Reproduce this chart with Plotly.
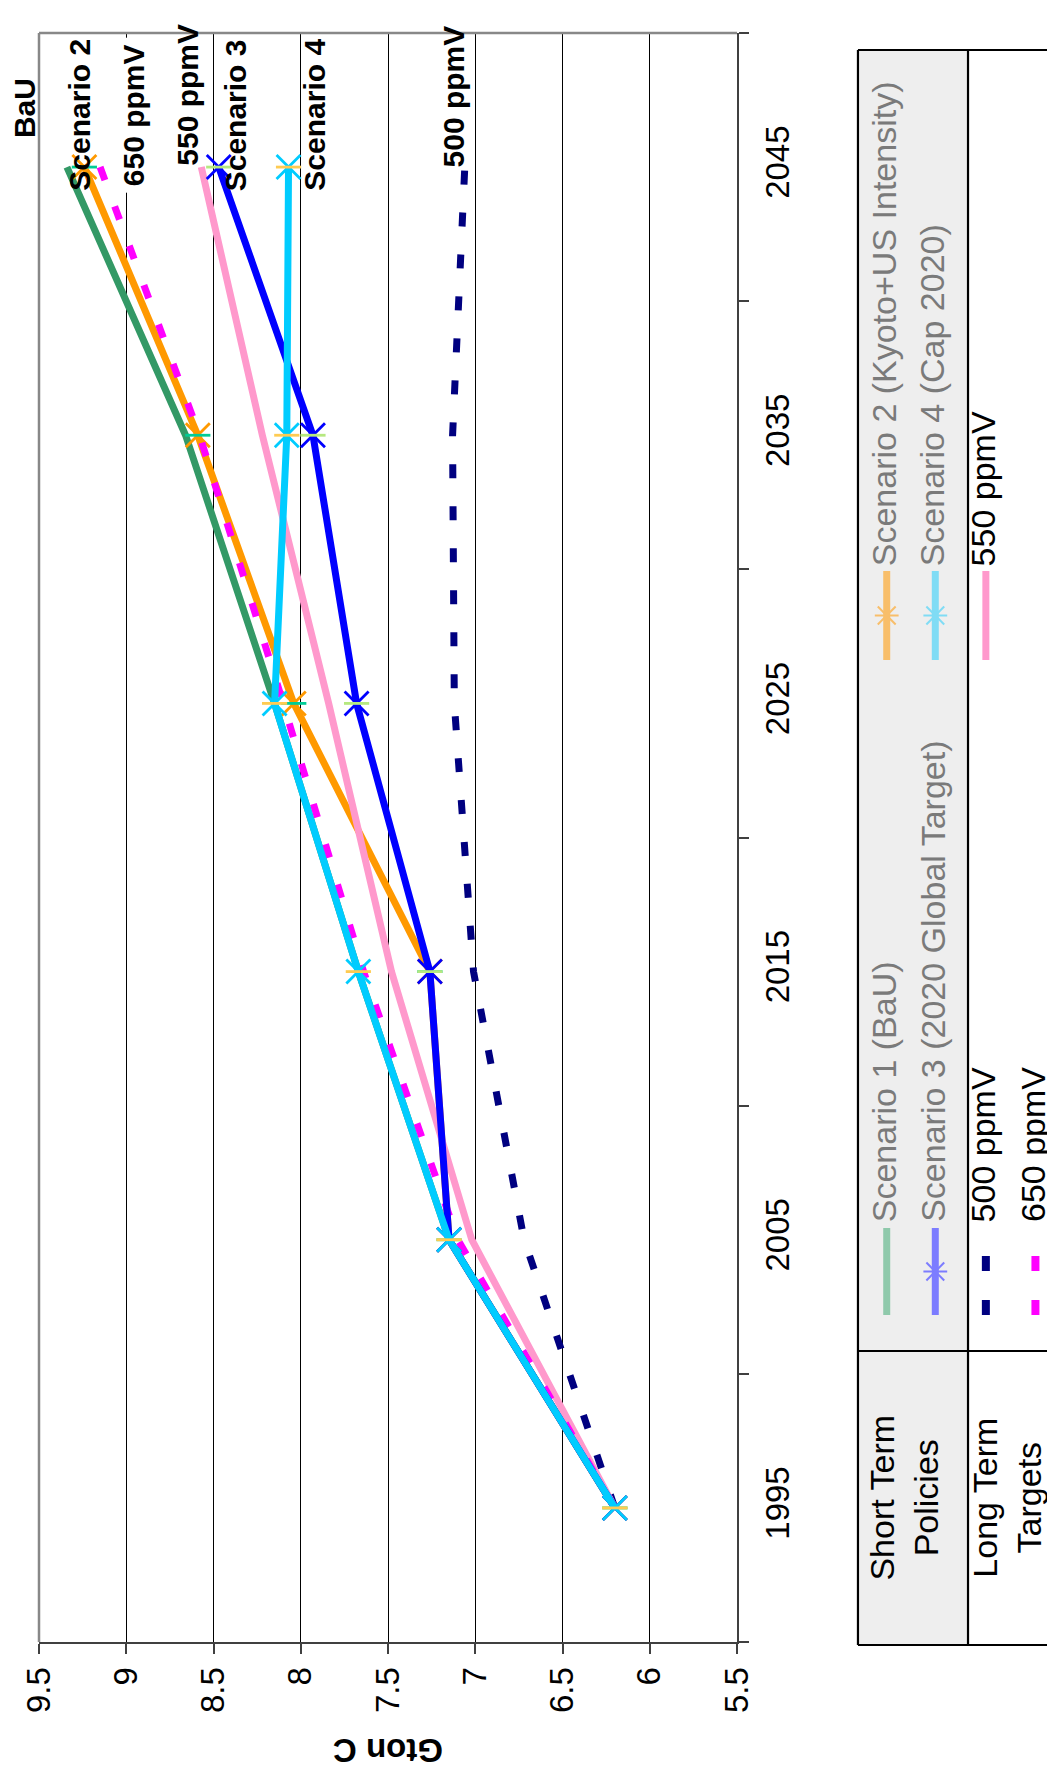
import plotly.graph_objects as go

# ---------------- data ----------------
years = [1995, 2005, 2015, 2025, 2035, 2045]
scenario1_bau = [6.20, 7.15, 7.67, 8.15, 8.66, 9.34]
scenario2_kyoto = [6.20, 7.15, 7.26, 8.04, 8.59, 9.24]
scenario3_global = [6.20, 7.15, 7.26, 7.68, 7.93, 8.47]
scenario4_cap = [6.20, 7.15, 7.67, 8.15, 8.08, 8.07]
target_500 = [6.20, 6.72, 7.01, 7.12, 7.13, 7.06]
target_550 = [6.20, 7.02, 7.48, 7.84, 8.22, 8.57]
target_650 = [6.20, 7.10, 7.64, 8.10, 8.58, 9.15]

series_names = ["Scenario 1 (BaU)", "Scenario 2 (Kyoto+US Intensity)",
                "Scenario 3 (2020 Global Target)", "Scenario 4 (Cap 2020)",
                "500 ppmV", "550 ppmV", "650 ppmV"]
end_labels = ["BaU", "Scenario 2", "650 ppmV", "550 ppmV", "Scenario 3", "Scenario 4", "500 ppmV"]
value_ticks = [9.5, 9, 8.5, 8, 7.5, 7, 6.5, 6, 5.5]
axis_title = "Gton C"
legend_headers = ["Short Term<br>Policies", "Long Term<br>Targets"]

# ---------------- geometry helpers (pixels -> paper) ----------------
W, H = 1055, 1769
L, R, T, B = 25, 729, 25, 1634


def PX(x):
    return (x - L) / (R - L)


def PY(y):
    return (B - y) / (B - T)


FONT = "Liberation Sans, Arial, sans-serif"
C_GREEN, C_ORANGE, C_BLUE, C_CYAN = "#339966", "#FF9900", "#0000FF", "#00CCFF"
C_NAVY, C_PINK, C_MAGENTA = "#000080", "#FF99CC", "#FF00FF"
DOT = "14px,28px"

fig = go.Figure()


def add_line(vals, name, color, dash="solid", width=7, marker=False):
    fig.add_trace(go.Scatter(
        x=vals, y=years, name=name, mode="lines+markers" if marker else "lines",
        line=dict(color=color, width=width, dash=dash),
        marker=dict(symbol="x-thin-open", size=24, line=dict(color=color, width=2.8)) if marker else None,
        showlegend=False, hoverinfo="skip"))
    if marker:
        fig.add_trace(go.Scatter(
            x=vals, y=years, mode="markers", showlegend=False, hoverinfo="skip",
            marker=dict(symbol="line-ew-open", size=18, line=dict(color=color, width=2.8))))


add_line(scenario1_bau, series_names[0], C_GREEN)
add_line(scenario2_kyoto, series_names[1], C_ORANGE, marker=True)
add_line(target_500, series_names[4], C_NAVY, dash=DOT, width=7)
add_line(target_550, series_names[5], C_PINK)
add_line(target_650, series_names[6], C_MAGENTA, dash=DOT, width=7)
add_line(scenario3_global, series_names[2], C_BLUE, marker=True)
add_line(scenario4_cap, series_names[3], C_CYAN, marker=True)

shapes = []
annotations = []

# plot-area border (top, left) in gray
shapes.append(dict(type="line", xref="paper", yref="paper", x0=0, x1=1, y0=1, y1=1,
                   line=dict(color="#888888", width=2.5), layer="above"))
shapes.append(dict(type="line", xref="paper", yref="paper", x0=0, x1=0, y0=0, y1=1,
                   line=dict(color="#888888", width=2.5), layer="above"))

# labels at line ends (bold, rotated)
label_pos = [(11, 100), (65, 107), (120, 107), (175, 87), (223, 107), (302, 107), (443, 88)]
for txt, (lx, ly) in zip(end_labels, label_pos):
    ann = dict(text=txt, xref="paper", yref="paper", x=PX(lx), y=PY(ly), xanchor="center",
               yanchor="middle", textangle=-90, showarrow=False,
               font=dict(family=FONT, size=30, color="black", weight="bold"))
    if txt == "650 ppmV":
        ann.update(bgcolor="white", borderpad=6)
    annotations.append(ann)

# axis title
annotations.append(dict(text=axis_title, xref="paper", yref="paper", x=PX(377), y=PY(1743),
                        xanchor="center", yanchor="middle", textangle=180, showarrow=False,
                        font=dict(family=FONT, size=33, color="black", weight="bold")))

# ---------------- legend table ----------------
LX0, LX1, LXM = 851, 1062, 962
LY0, LY1, LYM = 42, 1637, 1343
shapes.append(dict(type="rect", xref="paper", yref="paper", x0=PX(LX0), x1=PX(LXM), y0=PY(LY1), y1=PY(LY0),
                   fillcolor="#EEEEEE", line=dict(width=0), layer="above"))
for (x0, y0, x1, y1) in [(LX0, LY0, LX1, LY0), (LX0, LY1, LX1, LY1), (LX0, LY0, LX0, LY1),
                         (LXM, LY0, LXM, LY1), (LX0, LYM, LX1, LYM)]:
    shapes.append(dict(type="line", xref="paper", yref="paper", x0=PX(x0), x1=PX(x1), y0=PY(y0), y1=PY(y1),
                       line=dict(color="black", width=2.2), layer="above"))

for hdr, hx in zip(legend_headers, [897, 1001]):
    annotations.append(dict(text=hdr, xref="paper", yref="paper", x=PX(hx), y=PY(1490),
                            xanchor="center", yanchor="middle", textangle=-90, showarrow=False,
                            align="center", font=dict(family=FONT, size=34, color="black")))

# legend entries: (column x, symbol y range, text start y, text colour, symbol colour, kind)
entries = [
    (880, (1220, 1307), 1215, "#7a7a7a", "#8FC9AB", "line"),
    (880, (563, 652), 559, "#7a7a7a", "#F8BE6A", "star"),
    (929, (1220, 1307), 1215, "#7a7a7a", "#7C7CFF", "star"),
    (929, (563, 652), 559, "#7a7a7a", "#80DCF5", "star"),
    (980, (1220, 1307), 1215, "black", C_NAVY, "dot"),
    (980, (563, 652), 559, "black", C_PINK, "line"),
    (1030, (1220, 1307), 1215, "black", C_MAGENTA, "dot"),
]
for name, (ex, (sy0, sy1), ty, tcol, scol, kind) in zip(series_names, entries):
    if kind == "dot":
        for (d0, d1) in [(sy1 - 15, sy1), (sy1 - 59, sy1 - 44)]:
            shapes.append(dict(type="line", xref="paper", yref="paper", x0=PX(ex), x1=PX(ex),
                               y0=PY(d0), y1=PY(d1), line=dict(color=scol, width=8), layer="above"))
    else:
        shapes.append(dict(type="line", xref="paper", yref="paper", x0=PX(ex), x1=PX(ex),
                           y0=PY(sy0), y1=PY(sy1), line=dict(color=scol, width=7), layer="above"))
    if kind == "star":
        cy = (sy0 + sy1) / 2
        for (dx, dy) in [(12, 0), (9, 9), (9, -9)]:
            shapes.append(dict(type="line", xref="paper", yref="paper", x0=PX(ex - dx), x1=PX(ex + dx),
                               y0=PY(cy - dy), y1=PY(cy + dy), line=dict(color=scol, width=2), layer="above"))
    annotations.append(dict(text=name, xref="paper", yref="paper", x=PX(ex - 3), y=PY(ty),
                            xanchor="center", yanchor="bottom", textangle=-90, showarrow=False,
                            borderpad=0, font=dict(family=FONT, size=34, color=tcol)))

year_bounds = [years[0] - 5] + [y + 5 for y in years]

fig.update_layout(
    width=W, height=H,
    margin=dict(l=L, r=W - R, t=T, b=H - B, pad=0),
    paper_bgcolor="white", plot_bgcolor="white",
    font=dict(family=FONT, size=33, color="black"),
    xaxis=dict(range=[9.5, 5.5], tickvals=value_ticks, ticktext=[f"{v:g}" for v in value_ticks],
               tickangle=-90, showgrid=True, gridcolor="black", gridwidth=1, zeroline=False,
               showline=True, linecolor="#404040", linewidth=2, ticks="outside", ticklen=10,
               tickcolor="#404040", tickwidth=1.5, tickfont=dict(size=33, family=FONT)),
    yaxis=dict(range=[year_bounds[0], year_bounds[-1]], side="right", tickvals=years,
               ticktext=[str(y) for y in years], tickangle=-90, showgrid=False, zeroline=False,
               showline=True, linecolor="#404040", linewidth=2, ticks="",
               ticklabelstandoff=10,
               tickfont=dict(size=33, family=FONT),
               minor=dict(tickmode="array", tickvals=year_bounds, ticks="outside", ticklen=10,
                          tickcolor="#404040", tickwidth=1.5, showgrid=False)),
    shapes=shapes, annotations=annotations,
)

fig.write_html("out.html")
